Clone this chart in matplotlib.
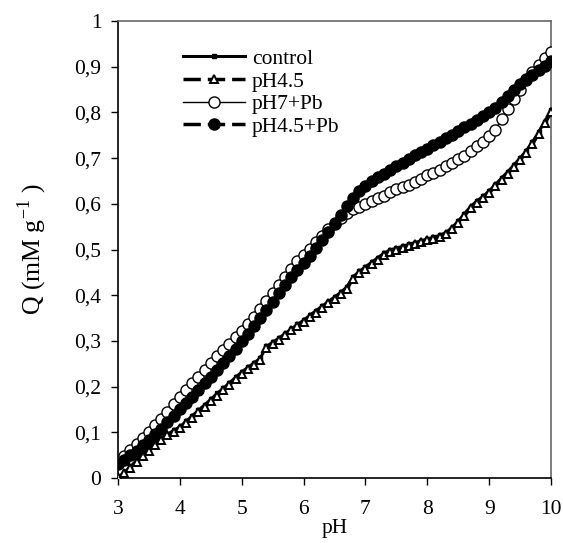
import matplotlib
matplotlib.use("Agg")
import matplotlib.pyplot as plt
from matplotlib.ticker import FuncFormatter

plt.rcParams['font.family'] = ['Liberation Serif', 'DejaVu Serif']
plt.rcParams['mathtext.fontset'] = 'custom'
plt.rcParams['mathtext.rm'] = 'Liberation Serif'

pH = [3.0, 3.1, 3.2, 3.3, 3.4, 3.5, 3.6, 3.7, 3.8, 3.9,
      4.0, 4.1, 4.2, 4.3, 4.4, 4.5, 4.6, 4.7, 4.8, 4.9,
      5.0, 5.1, 5.2, 5.3, 5.4, 5.5, 5.6, 5.7, 5.8, 5.9,
      6.0, 6.1, 6.2, 6.3, 6.4, 6.5, 6.6, 6.7, 6.8, 6.9,
      7.0, 7.1, 7.2, 7.3, 7.4, 7.5, 7.6, 7.7, 7.8, 7.9,
      8.0, 8.1, 8.2, 8.3, 8.4, 8.5, 8.6, 8.7, 8.8, 8.9,
      9.0, 9.1, 9.2, 9.3, 9.4, 9.5, 9.6, 9.7, 9.8, 9.9, 10.0]

control = [0.000, 0.012, 0.025, 0.038, 0.052, 0.064, 0.076, 0.087, 0.096, 0.104,
           0.112, 0.124, 0.136, 0.148, 0.160, 0.172, 0.185, 0.196, 0.208, 0.220,
           0.232, 0.242, 0.252, 0.262, 0.288, 0.297, 0.306, 0.316, 0.326, 0.336,
           0.345, 0.356, 0.366, 0.376, 0.386, 0.396, 0.406, 0.418, 0.440, 0.452,
           0.462, 0.472, 0.482, 0.492, 0.499, 0.503, 0.507, 0.511, 0.515, 0.519,
           0.523, 0.527, 0.531, 0.537, 0.548, 0.562, 0.578, 0.594, 0.606, 0.616,
           0.628, 0.642, 0.656, 0.670, 0.685, 0.700, 0.716, 0.735, 0.757, 0.780, 0.805]

pH45 = [0.002, 0.010, 0.022, 0.035, 0.048, 0.060, 0.072, 0.083, 0.093, 0.101,
        0.109, 0.120, 0.132, 0.144, 0.156, 0.168, 0.180, 0.192, 0.204, 0.216,
        0.228, 0.238, 0.248, 0.258, 0.284, 0.294, 0.303, 0.313, 0.323, 0.333,
        0.342, 0.352, 0.362, 0.372, 0.382, 0.392, 0.402, 0.414, 0.436, 0.448,
        0.458, 0.468, 0.478, 0.488, 0.495, 0.500, 0.504, 0.508, 0.512, 0.516,
        0.520, 0.524, 0.528, 0.534, 0.544, 0.558, 0.574, 0.590, 0.602, 0.612,
        0.624, 0.638, 0.652, 0.666, 0.681, 0.696, 0.712, 0.731, 0.753, 0.776, 0.800]

pH7Pb = [0.035, 0.048, 0.062, 0.075, 0.088, 0.100, 0.115, 0.130, 0.145, 0.162,
         0.178, 0.192, 0.207, 0.222, 0.237, 0.252, 0.266, 0.280, 0.294, 0.308,
         0.322, 0.338, 0.353, 0.370, 0.388, 0.405, 0.422, 0.440, 0.458, 0.474,
         0.488, 0.502, 0.516, 0.530, 0.545, 0.558, 0.570, 0.580, 0.588, 0.594,
         0.600, 0.606, 0.612, 0.618, 0.625, 0.632, 0.637, 0.642, 0.648, 0.655,
         0.662, 0.668, 0.675, 0.683, 0.690, 0.697, 0.705, 0.715, 0.726, 0.736,
         0.748, 0.762, 0.785, 0.808, 0.830, 0.850, 0.870, 0.888, 0.903, 0.918, 0.932]

pH45Pb = [0.030, 0.040, 0.050, 0.060, 0.072, 0.083, 0.096, 0.108, 0.122, 0.136,
          0.150, 0.164, 0.178, 0.192, 0.207, 0.222, 0.237, 0.252, 0.267, 0.283,
          0.300, 0.316, 0.333, 0.350, 0.368, 0.386, 0.404, 0.422, 0.440, 0.455,
          0.470, 0.486, 0.503, 0.520, 0.538, 0.556, 0.575, 0.595, 0.612, 0.628,
          0.640, 0.650, 0.658, 0.666, 0.674, 0.682, 0.690, 0.698, 0.706, 0.714,
          0.721, 0.728, 0.735, 0.743, 0.751, 0.759, 0.767, 0.775, 0.783, 0.792,
          0.800, 0.810, 0.822, 0.836, 0.850, 0.862, 0.872, 0.882, 0.892, 0.902, 0.912]

xticks = [3, 4, 5, 6, 7, 8, 9, 10]
yticks = [0, 0.1, 0.2, 0.3, 0.4, 0.5, 0.6, 0.7, 0.8, 0.9, 1.0]

fig = plt.figure(figsize=(5.63, 5.43), dpi=100)
ax = fig.add_axes([118 / 563, 1 - 478 / 543, 433 / 563, 457 / 543])

ax.plot(pH, control, '-', color='black', lw=2.2, marker='s', ms=2.5,
        label='control', zorder=3)
ax.plot(pH, pH45, '--', color='black', lw=2.5, dashes=(5, 2), marker='^', ms=5.5,
        mfc='white', mec='black', mew=1.4, label='pH4.5', zorder=4)
ax.plot(pH, pH7Pb, '-', color='black', lw=1.0, marker='o', ms=8,
        mfc='white', mec='black', mew=1.0, label='pH7+Pb', zorder=5)
ax.plot(pH, pH45Pb, '--', color='black', lw=2.5, dashes=(5, 2), marker='o', ms=8,
        mfc='black', mec='black', label='pH4.5+Pb', zorder=6)

ax.set_xlim(3, 10)
ax.set_ylim(0, 1)
ax.set_xticks(xticks)
ax.set_yticks(yticks)
ax.yaxis.set_major_formatter(FuncFormatter(lambda v, p: ('%g' % v).replace('.', ',')))
ax.tick_params(direction='out', length=5, width=1, labelsize=15.5, colors='black')
ax.tick_params(axis='y', pad=7)
ax.tick_params(axis='x', pad=11)

for s in ['left', 'bottom']:
    ax.spines[s].set_color('black')
    ax.spines[s].set_linewidth(1.2)
for s in ['top', 'right']:
    ax.spines[s].set_color('#666666')
    ax.spines[s].set_linewidth(1.2)

ax.set_xlabel('pH', fontsize=15.5, labelpad=0)
ax.set_ylabel('Q (mM g$^{-1}$ )', fontsize=18.5, labelpad=18)

leg = ax.legend(loc='upper left', bbox_to_anchor=(0.149, 0.939), frameon=False,
                fontsize=15.5, handlelength=2.9, handletextpad=0.33,
                labelspacing=0.12, borderaxespad=0, borderpad=0)

fig.savefig('out.png', dpi=100)
